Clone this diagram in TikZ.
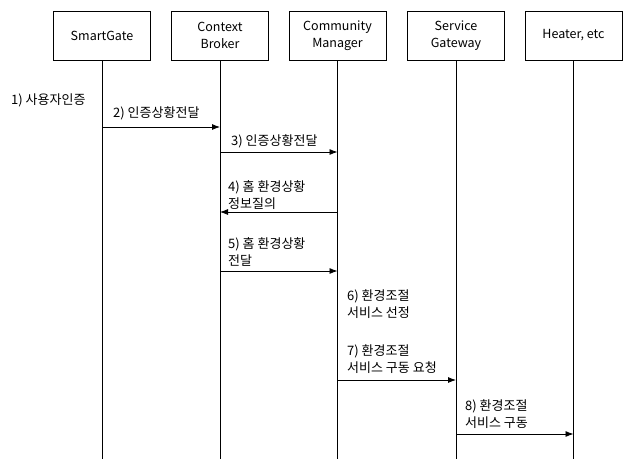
\documentclass[tikz,border=0pt]{standalone}
\usepackage{fontspec}
\setmainfont{Noto Sans CJK KR}
\usetikzlibrary{arrows.meta}

\begin{document}
\begin{tikzpicture}[x=1pt,y=-1pt,
    font=\fontsize{13}{17.5}\selectfont,
    actor/.style={draw,line width=0.8pt,minimum width=97pt,minimum height=49pt,align=center,font=\fontsize{12.5}{17}\selectfont},
    life/.style={line width=0.7pt},
    msg/.style={line width=0.8pt,-{Latex[length=8pt,width=6pt]}},
    lbl/.style={anchor=west,align=left,inner sep=0pt}]
        \useasboundingbox (0,0) rectangle (629,459);

        \node[actor] (sg) at (102,35.5) {SmartGate};
        \node[actor] (cb) at (220,35.5) {Context\\Broker};
        \node[actor] (cm) at (337.5,35.5) {Community\\Manager};
        \node[actor] (gw) at (456,35.5) {Service\\Gateway};
        \node[actor] (ht) at (573.5,35.5) {Heater, etc};

        \draw[life] (sg.south) -- (sg.south |- 0,459) coordinate (sgend);
        \draw[life] (cb.south) -- (cb.south |- 0,459) coordinate (cbend);
        \draw[life] (cm.south) -- (cm.south |- 0,459) coordinate (cmend);
        \draw[life] (gw.south) -- (gw.south |- 0,459) coordinate (gwend);
        \draw[life] (ht.south) -- (ht.south |- 0,459) coordinate (htend);

        \node[lbl] (t1) at (11,100) {1) 사용자인증};

        \draw[msg] (sg.south |- 0,127) -- (cb.south |- 0,127);
        \node[lbl] (t2) at (113,113) {2) 인증상황전달};

        \draw[msg] (cb.south |- 0,152) -- (cm.south |- 0,152);
        \node[lbl] (t3) at (231,141) {3) 인증상황전달};

        \draw[msg] (cm.south |- 0,212) -- (cb.south |- 0,212);
        \node[lbl] (t4) at (228,195) {4) 홈 환경상황\\정보질의};

        \draw[msg] (cb.south |- 0,271) -- (cm.south |- 0,271);
        \node[lbl] (t5) at (228,252) {5) 홈 환경상황\\전달};

        \node[lbl] (t6) at (347,304) {6) 환경조절\\서비스 선정};

        \draw[msg] (cm.south |- 0,380) -- (gw.south |- 0,380);
        \node[lbl] (t7) at (347,359) {7) 환경조절\\서비스 구동 요청};

        \draw[msg] (gw.south |- 0,434) -- (ht.south |- 0,434);
        \node[lbl] (t8) at (465,414) {8) 환경조절\\서비스 구동};
    \end{tikzpicture}
\end{document}
